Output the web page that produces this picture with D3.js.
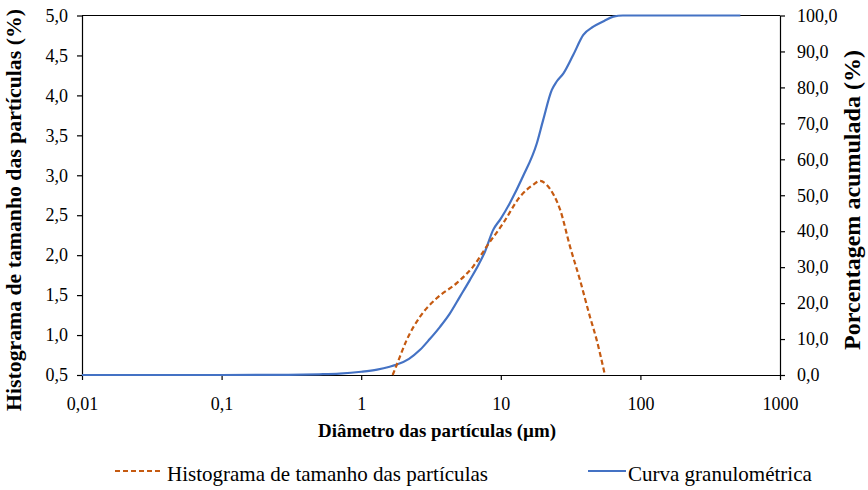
<!DOCTYPE html>
<html>
<head>
<meta charset="utf-8">
<script src="https://cdn.jsdelivr.net/npm/d3@7"></script>
<style>
  body { margin: 0; background: #fff; }
  .axis path, .axis line { stroke: #000; stroke-width: 1.2; }
</style>
</head>
<body>
<svg id="chart" width="868" height="490"></svg>
<script>
// x ticks (log scale, µm)
const xTicks = [0.01, 0.1, 1, 10, 100, 1000];
const xLabels = ["0,01", "0,1", "1", "10", "100", "1000"];
const leftTicks = [0.5, 1.0, 1.5, 2.0, 2.5, 3.0, 3.5, 4.0, 4.5, 5.0];
const rightTicks = [0, 10, 20, 30, 40, 50, 60, 70, 80, 90, 100];

// histogram (left axis, %)
const histDiam = [1.68, 1.8, 2.12, 2.64, 3.47, 4.83, 6.35, 7.93, 10.4, 13.7, 17.0, 19.1, 21.3, 24.0, 26.6, 31.3, 36.9, 43.5, 48.6, 55.7];
const histVal  = [0.5, 0.63, 0.94, 1.23, 1.46, 1.65, 1.86, 2.11, 2.40, 2.73, 2.88, 2.93, 2.88, 2.75, 2.57, 2.11, 1.69, 1.23, 0.94, 0.5];

// cumulative curve (right axis, %)
const cumDiam = [0.01, 0.1, 0.3, 0.5, 0.7, 1.0, 1.3, 1.6, 1.8, 2.2, 2.64, 3.1, 3.67, 4.3, 5.1, 6.0, 7.0, 7.7, 8.8, 10, 11.6, 14.4, 18.1, 20.1, 23.2, 25, 28.1, 33, 39, 46, 55, 64, 75, 520];
const cumVal  = [0, 0, 0.05, 0.2, 0.4, 0.9, 1.5, 2.3, 2.9, 4.5, 7, 10, 13.4, 17, 21.8, 26.4, 31, 34.3, 40.3, 43.5, 47.8, 55.2, 64.4, 70.9, 79.3, 81.5, 83.9, 89, 94.6, 96.9, 98.5, 99.7, 100, 100];

const FONT = "'Liberation Serif', 'Times New Roman', serif";

let svg = d3.select("svg#chart");
let margin = { left: 82, right: 88, top: 15.5, bottom: 115 };
let plotW = 780 - margin.left;
let plotH = 375 - margin.top;

const ptBR = d3.formatLocale({ decimal: ",", thousands: ".", grouping: [3], currency: ["R$", ""] });
const fmt1 = ptBR.format(".1f");

const x = d3.scaleLog().domain([0.01, 1000]).range([margin.left, margin.left + plotW]);
const yL = d3.scaleLinear().domain([0.5, 5.0]).range([margin.top + plotH, margin.top]);
const yR = d3.scaleLinear().domain([0, 100]).range([margin.top + plotH, margin.top]);

// top border line
svg.append("line")
  .attr("x1", margin.left).attr("x2", margin.left + plotW)
  .attr("y1", margin.top).attr("y2", margin.top)
  .attr("stroke", "#000").attr("stroke-width", 1.2);

// axes
svg.append("g").attr("class", "axis")
  .attr("transform", "translate(0," + (margin.top + plotH) + ")")
  .call(d3.axisBottom(x).tickValues(xTicks).tickSize(5).tickSizeOuter(0)
    .tickFormat((d, i) => xLabels[i]))
  .call(g => g.selectAll("text").attr("y", 22));

svg.append("g").attr("class", "axis")
  .attr("transform", "translate(" + margin.left + ",0)")
  .call(d3.axisLeft(yL).tickValues(leftTicks).tickSize(5).tickSizeOuter(0).tickFormat(fmt1))
  .call(g => g.selectAll("text").attr("x", -14));

svg.append("g").attr("class", "axis")
  .attr("transform", "translate(" + (margin.left + plotW) + ",0)")
  .call(d3.axisRight(yR).tickValues(rightTicks).tickSize(5).tickSizeOuter(0).tickFormat(fmt1))
  .call(g => g.selectAll("text").attr("x", 17));

svg.selectAll(".axis").attr("font-family", null);
svg.selectAll(".axis text")
  .style("font-family", FONT).style("font-size", "18px").style("fill", "#000");

// lines
const histLine = d3.line()
  .x((d, i) => x(histDiam[i]))
  .y(d => yL(d))
  .curve(d3.curveMonotoneX);
const cumLine = d3.line()
  .x((d, i) => x(cumDiam[i]))
  .y(d => yR(d))
  .curve(d3.curveMonotoneX);

svg.append("path").datum(cumVal)
  .attr("d", cumLine)
  .attr("fill", "none").attr("stroke", "#4472C4").attr("stroke-width", 2.2);

svg.append("path").datum(histVal)
  .attr("d", histLine)
  .attr("fill", "none").attr("stroke", "#C55A11").attr("stroke-width", 2.2)
  .attr("stroke-dasharray", "5,3");

// shrink/grow a label so it spans the same width as in the original
function fit(t, base, target) {
  t.style("font-family", FONT).style("font-size", base + "px");
  let w = t.node().getComputedTextLength();
  let size = base * target / w;
  t.style("font-size", size.toFixed(2) + "px");
  return size;
}

fit(svg.append("text")
  .attr("x", 437).attr("y", 437)
  .attr("text-anchor", "middle").style("font-weight", "bold")
  .text("Diâmetro das partículas (µm)"), 19, 238);

fit(svg.append("text")
  .attr("transform", "translate(21,210) rotate(-90)")
  .attr("text-anchor", "middle").style("font-weight", "bold")
  .text("Histograma de tamanho das partículas (%)"), 19, 402);

fit(svg.append("text")
  .attr("transform", "translate(860,200) rotate(-90)")
  .attr("text-anchor", "middle").style("font-weight", "bold")
  .text("Porcentagem acumulada (%)"), 19, 300);

// legend
let legend = svg.append("g");
legend.append("line").attr("x1", 115).attr("x2", 163).attr("y1", 471).attr("y2", 471)
  .attr("stroke", "#C55A11").attr("stroke-width", 2).attr("stroke-dasharray", "5,3");
let legSize = fit(legend.append("text").attr("x", 167).attr("y", 481)
  .text("Histograma de tamanho das partículas"), 20, 321);
legend.append("line").attr("x1", 588).attr("x2", 626).attr("y1", 471).attr("y2", 471)
  .attr("stroke", "#4472C4").attr("stroke-width", 2);
legend.append("text").attr("x", 628).attr("y", 481)
  .style("font-family", FONT).style("font-size", legSize.toFixed(2) + "px")
  .text("Curva granulométrica");
</script>
</body>
</html>
